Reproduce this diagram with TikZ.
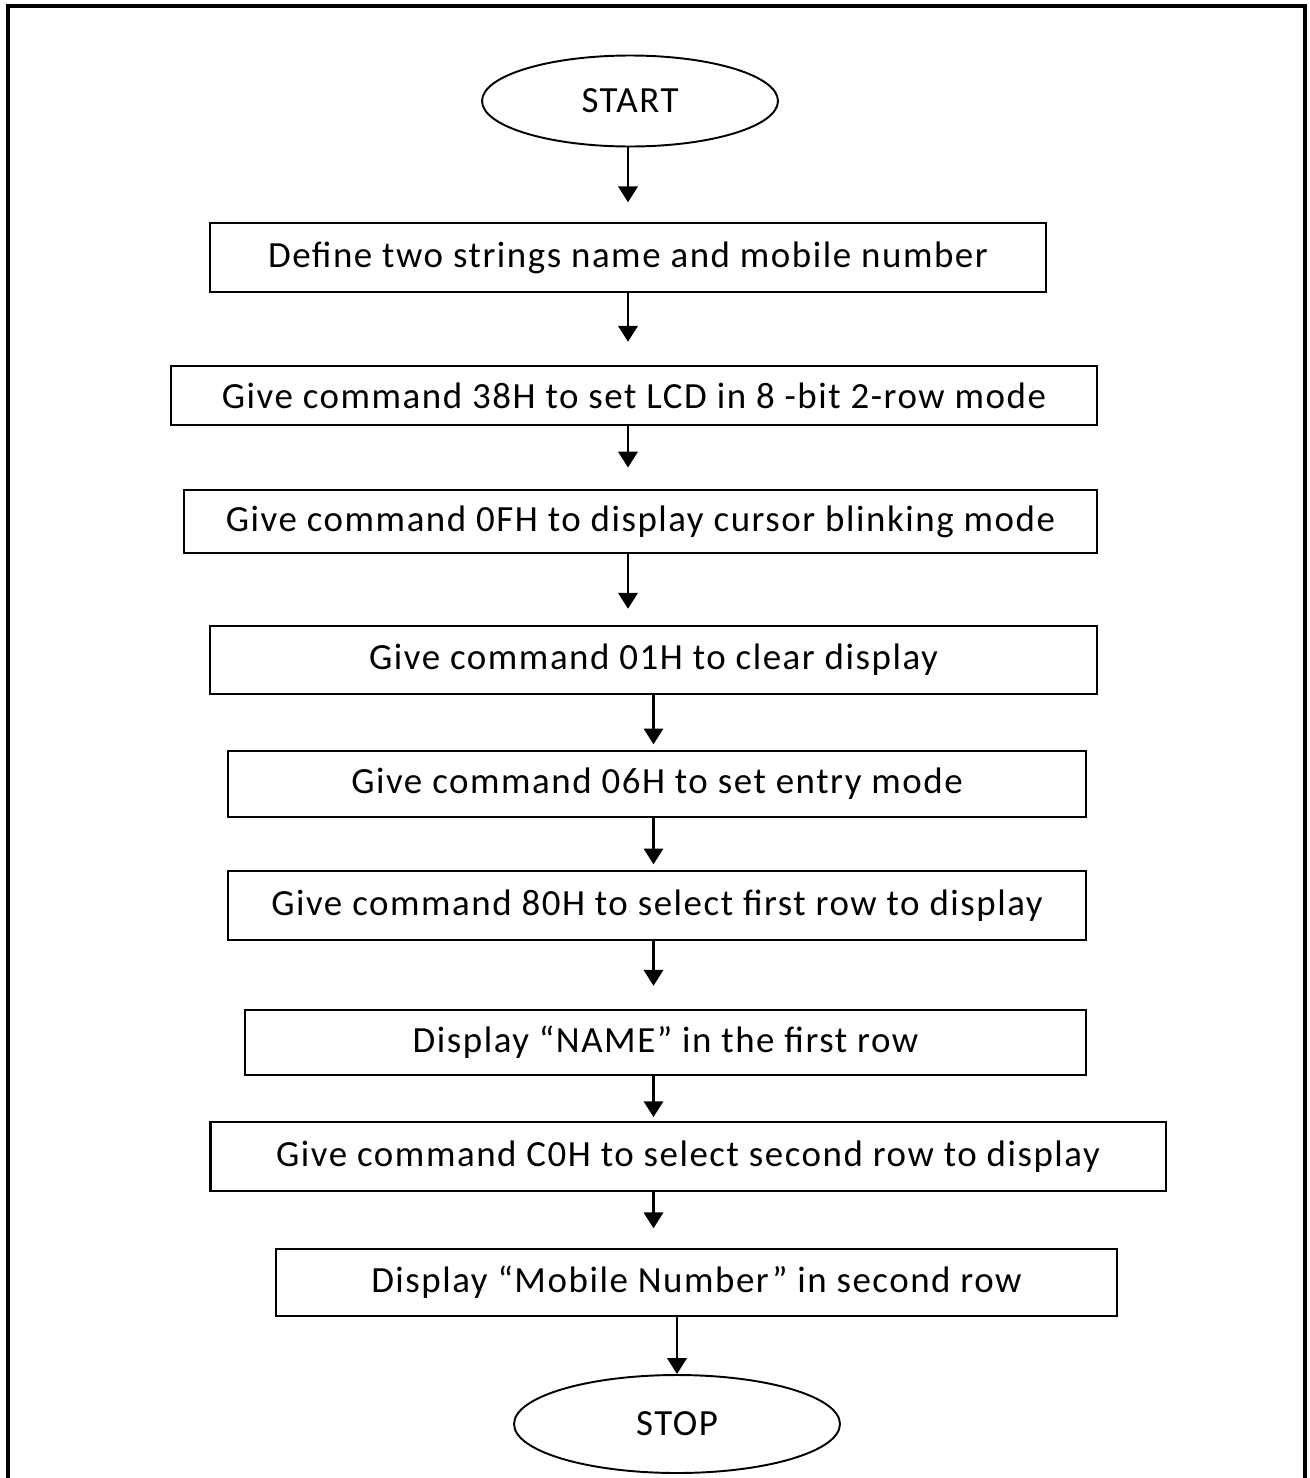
\documentclass[tikz,border=0pt]{standalone}
\usepackage{fontspec}
\setmainfont[LetterSpace=4.2]{Carlito}
\usetikzlibrary{arrows.meta}
\usetikzlibrary{shapes.geometric}

\begin{document}
\begin{tikzpicture} [x=0.02cm, y=-0.02cm,
 box/.style={draw, line width=1.6pt, rectangle, inner sep=0pt, font=\fontsize{21}{25}\selectfont},
 term/.style={draw, line width=1.1pt, ellipse, inner sep=0pt, font=\fontsize{21}{25}\selectfont},
 flow/.style={line width=1.3pt, -{Triangle[width=11pt, length=9pt]}}]

\useasboundingbox (0,0) rectangle (1309,1478);
\draw[line width=2.2pt] (8,1478) -- (8,6) -- (1305,6) -- (1305,1478);

\node[term, minimum width=5.92cm, minimum height=1.82cm] (start) at (630,101) {START};
\node[box, minimum width=16.72cm, minimum height=1.38cm] (strings) at (628,257.5) {Define two strings name and mobile number};
\node[box, minimum width=18.52cm, minimum height=1.18cm] (cmd38) at (634,395.5) {Give command 38H to set LCD in 8 -bit 2-row mode};
\node[box, minimum width=18.26cm, minimum height=1.26cm] (cmd0f) at (640.5,521.5) {Give command 0FH to display cursor blinking mode};
\node[box, minimum width=17.74cm, minimum height=1.36cm] (cmd01) at (653.5,660) {Give command 01H to clear display};
\node[box, minimum width=17.16cm, minimum height=1.32cm] (cmd06) at (657,784) {Give command 06H to set entry mode};
\node[box, minimum width=17.16cm, minimum height=1.38cm] (cmd80) at (657,905.5) {Give command 80H to select first row to display};
\node[box, minimum width=16.82cm, minimum height=1.30cm] (name) at (665.5,1042.5) {Display “NAME” in the first row};
\node[box, minimum width=19.12cm, minimum height=1.38cm] (cmdc0) at (688,1156.5) {Give command C0H to select second row to display};
\node[box, minimum width=16.82cm, minimum height=1.34cm] (mobile) at (696.5,1282.5) {Display “Mobile Number” in second row};
\node[term, minimum width=6.52cm, minimum height=1.96cm] (stop) at (677,1424) {STOP};

\draw[flow, shorten >=11] ([xshift=-0.04cm]start.south) -- ([xshift=-0.04cm]start.south |- strings.north);
\draw[flow, shorten >=13] (strings.south) -- (strings.south |- cmd38.north);
\draw[flow, shorten >=12] (cmd38.south -| strings.south) -- (strings.south |- cmd0f.north);
\draw[flow, shorten >=9] (cmd0f.south -| strings.south) -- (strings.south |- cmd01.north);
\draw[flow, shorten >=3] (cmd01.south) -- (cmd01.south |- cmd06.north);
\draw[flow, shorten >=3] (cmd06.south -| cmd01.south) -- (cmd01.south |- cmd80.north);
\draw[flow, shorten >=13] (cmd80.south -| cmd01.south) -- (cmd01.south |- name.north);
\draw[flow, shorten >=2] (name.south -| cmd01.south) -- (cmd01.south |- cmdc0.north);
\draw[flow, shorten >=11] (cmdc0.south -| cmd01.south) -- (cmd01.south |- mobile.north);
\draw[flow] (mobile.south -| stop.north) -- (stop.north);

\end{tikzpicture}
\end{document}
